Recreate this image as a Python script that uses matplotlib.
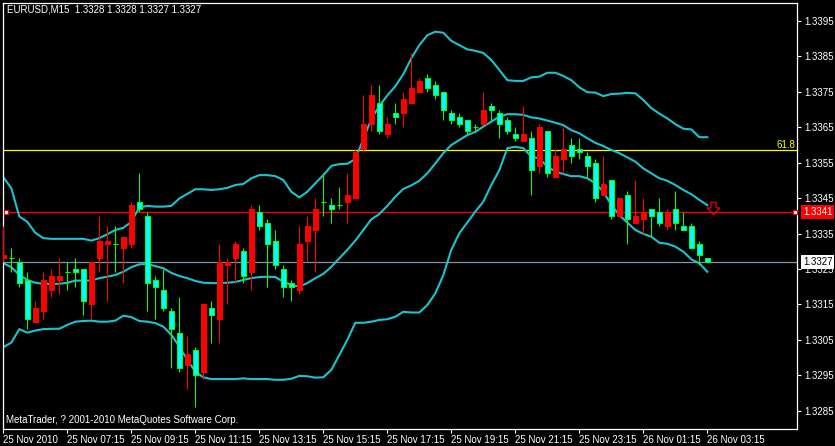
import numpy as np
import matplotlib
matplotlib.use("Agg")
import matplotlib.pyplot as plt
import matplotlib.transforms as mtransforms
from matplotlib.path import Path

# EURUSD M15, 25 Nov 2010 05:15 .. 26 Nov 2010 03:15
opens = [1.3328, 1.3328, 1.3327, 1.3322, 1.3310, 1.3313, 1.3319, 1.3322, 1.3324, 1.3325,
         1.3325, 1.3315, 1.3328, 1.3332, 1.3332, 1.3331, 1.3332, 1.3344, 1.3340, 1.3322,
         1.3319, 1.3313, 1.3307, 1.3298, 1.3302, 1.3296, 1.3314, 1.3311, 1.3326, 1.3328,
         1.3330, 1.3324, 1.3341, 1.3338, 1.3333, 1.3325, 1.3321, 1.3319, 1.3333, 1.3336,
         1.3344, 1.3343, 1.3343, 1.3344, 1.3345, 1.3359, 1.3366, 1.3372, 1.3363, 1.3369,
         1.3369, 1.3372, 1.3375, 1.3379, 1.3377, 1.3375, 1.3369, 1.3368, 1.3367, 1.3365,
         1.3366, 1.3371, 1.3369, 1.3367, 1.3363, 1.3361, 1.3362, 1.3354, 1.3364, 1.3351,
         1.3356, 1.3360, 1.3359, 1.3357, 1.3355, 1.3346, 1.3350, 1.3340, 1.3346, 1.3338,
         1.3339, 1.3342, 1.3341, 1.3337, 1.3342, 1.3337, 1.3337, 1.3332, 1.3328]
highs = [1.3337, 1.3331, 1.3328, 1.3324, 1.3316, 1.3324, 1.3325, 1.3328, 1.3327, 1.3328,
         1.3325, 1.3327, 1.3340, 1.3337, 1.3337, 1.3334, 1.3344, 1.3352, 1.3341, 1.3323,
         1.3325, 1.3314, 1.3317, 1.3306, 1.3303, 1.3315, 1.3316, 1.3332, 1.3328, 1.3333,
         1.3331, 1.3343, 1.3343, 1.3339, 1.3336, 1.3326, 1.3322, 1.3337, 1.3340, 1.3345,
         1.3352, 1.3345, 1.3348, 1.3352, 1.3359, 1.3374, 1.3377, 1.3377, 1.3368, 1.3372,
         1.3375, 1.3386, 1.3379, 1.3380, 1.3378, 1.3375, 1.3370, 1.3369, 1.3367, 1.3366,
         1.3375, 1.3372, 1.3370, 1.3368, 1.3365, 1.3371, 1.3364, 1.3366, 1.3364, 1.3359,
         1.3365, 1.3362, 1.3362, 1.3358, 1.3356, 1.3357, 1.3350, 1.3345, 1.3347, 1.3350,
         1.3345, 1.3342, 1.3345, 1.3342, 1.3347, 1.3341, 1.3338, 1.3333, 1.3328]
lows = [1.3327, 1.3324, 1.3320, 1.3308, 1.3310, 1.3311, 1.3317, 1.3318, 1.3319, 1.3320,
        1.3312, 1.3311, 1.3324, 1.3316, 1.3324, 1.3321, 1.3331, 1.3341, 1.3313, 1.3311,
        1.3313, 1.3297, 1.3296, 1.3291, 1.3286, 1.3294, 1.3304, 1.3304, 1.3315, 1.3321,
        1.3321, 1.3319, 1.3336, 1.3320, 1.3325, 1.3317, 1.3316, 1.3318, 1.3327, 1.3324,
        1.3340, 1.3338, 1.3342, 1.3338, 1.3345, 1.3358, 1.3364, 1.3363, 1.3362, 1.3366,
        1.3365, 1.3372, 1.3375, 1.3375, 1.3373, 1.3367, 1.3366, 1.3365, 1.3363, 1.3364,
        1.3366, 1.3367, 1.3362, 1.3363, 1.3361, 1.3361, 1.3346, 1.3352, 1.3351, 1.3351,
        1.3352, 1.3355, 1.3356, 1.3351, 1.3344, 1.3346, 1.3339, 1.3340, 1.3332, 1.3338,
        1.3335, 1.3334, 1.3337, 1.3336, 1.3336, 1.3336, 1.3331, 1.3326, 1.3327]
closes = [1.3329, 1.3328, 1.3321, 1.3311, 1.3314, 1.3322, 1.3323, 1.3323, 1.3324, 1.3324,
          1.3316, 1.3327, 1.3333, 1.3333, 1.3332, 1.3334, 1.3343, 1.3342, 1.3321, 1.3320,
          1.3314, 1.3308, 1.3297, 1.3301, 1.3295, 1.3315, 1.3312, 1.3327, 1.3327, 1.3332,
          1.3323, 1.3342, 1.3337, 1.3332, 1.3326, 1.3320, 1.3320, 1.3332, 1.3337, 1.3342,
          1.3344, 1.3342, 1.3343, 1.3346, 1.3358, 1.3366, 1.3374, 1.3364, 1.3366, 1.3368,
          1.3373, 1.3376, 1.3378, 1.3376, 1.3374, 1.3370, 1.3367, 1.3366, 1.3364, 1.3365,
          1.3370, 1.3370, 1.3366, 1.3364, 1.3362, 1.3363, 1.3353, 1.3365, 1.3352, 1.3357,
          1.3359, 1.3357, 1.3358, 1.3354, 1.3345, 1.3349, 1.3340, 1.3345, 1.3339, 1.3340,
          1.3341, 1.3340, 1.3338, 1.3341, 1.3338, 1.3336, 1.3331, 1.3329, 1.3327]

# Bollinger Bands (20, 2)
bb_upper = [1.33509, 1.33478, 1.33398, 1.33383, 1.33352, 1.33337, 1.33335, 1.33335, 1.33335, 1.33335,
            1.33335, 1.33330, 1.33337, 1.33348, 1.33360, 1.33366, 1.33383, 1.33424, 1.33428, 1.33426,
            1.33426, 1.33428, 1.33449, 1.33462, 1.33475, 1.33475, 1.33473, 1.33475, 1.33479, 1.33487,
            1.33490, 1.33506, 1.33515, 1.33515, 1.33512, 1.33501, 1.33468, 1.33452, 1.33468, 1.33492,
            1.33515, 1.33541, 1.33546, 1.33547, 1.33560, 1.33617, 1.33673, 1.33710, 1.33740, 1.33766,
            1.33800, 1.33845, 1.33882, 1.33910, 1.33920, 1.33917, 1.33894, 1.33882, 1.33870, 1.33866,
            1.33860, 1.33840, 1.33812, 1.33783, 1.33781, 1.33781, 1.33791, 1.33793, 1.33804, 1.33804,
            1.33795, 1.33783, 1.33763, 1.33749, 1.33748, 1.33738, 1.33744, 1.33745, 1.33747, 1.33746,
            1.33727, 1.33704, 1.33689, 1.33675, 1.33659, 1.33646, 1.33644, 1.33622, 1.33622]
bb_middle = [1.33266, 1.33255, 1.33233, 1.33219, 1.33211, 1.33208, 1.33208, 1.33208, 1.33211, 1.33217,
             1.33217, 1.33217, 1.33224, 1.33228, 1.33233, 1.33242, 1.33255, 1.33263, 1.33264, 1.33258,
             1.33252, 1.33239, 1.33230, 1.33224, 1.33216, 1.33211, 1.33210, 1.33210, 1.33211, 1.33213,
             1.33219, 1.33224, 1.33227, 1.33228, 1.33227, 1.33214, 1.33205, 1.33200, 1.33210, 1.33224,
             1.33236, 1.33256, 1.33280, 1.33304, 1.33330, 1.33360, 1.33390, 1.33405, 1.33428, 1.33454,
             1.33476, 1.33486, 1.33499, 1.33520, 1.33548, 1.33577, 1.33600, 1.33614, 1.33628, 1.33637,
             1.33652, 1.33666, 1.33680, 1.33687, 1.33687, 1.33685, 1.33678, 1.33675, 1.33669, 1.33663,
             1.33656, 1.33642, 1.33633, 1.33619, 1.33606, 1.33597, 1.33586, 1.33577, 1.33565, 1.33553,
             1.33534, 1.33520, 1.33506, 1.33499, 1.33487, 1.33473, 1.33461, 1.33445, 1.33430]
bb_lower = [1.33029, 1.33042, 1.33080, 1.33070, 1.33076, 1.33080, 1.33081, 1.33081, 1.33092, 1.33101,
            1.33103, 1.33104, 1.33101, 1.33101, 1.33104, 1.33118, 1.33114, 1.33103, 1.33101, 1.33097,
            1.33087, 1.33064, 1.33031, 1.32993, 1.32960, 1.32944, 1.32939, 1.32939, 1.32939, 1.32939,
            1.32941, 1.32939, 1.32939, 1.32939, 1.32937, 1.32937, 1.32940, 1.32948, 1.32947, 1.32943,
            1.32944, 1.32965, 1.33007, 1.33050, 1.33098, 1.33098, 1.33101, 1.33106, 1.33108, 1.33115,
            1.33129, 1.33127, 1.33127, 1.33148, 1.33181, 1.33233, 1.33304, 1.33351, 1.33381, 1.33412,
            1.33440, 1.33487, 1.33529, 1.33591, 1.33595, 1.33591, 1.33567, 1.33562, 1.33539, 1.33525,
            1.33518, 1.33512, 1.33512, 1.33506, 1.33492, 1.33468, 1.33431, 1.33402, 1.33381, 1.33360,
            1.33349, 1.33341, 1.33324, 1.33321, 1.33313, 1.33299, 1.33277, 1.33266, 1.33242]

price_ticks = [1.3285, 1.3295, 1.3305, 1.3315, 1.3325, 1.3335, 1.3345, 1.3355, 1.3365, 1.3375, 1.3385, 1.3395]
time_labels = ["25 Nov 2010", "25 Nov 07:15", "25 Nov 09:15", "25 Nov 11:15", "25 Nov 13:15",
               "25 Nov 15:15", "25 Nov 17:15", "25 Nov 19:15", "25 Nov 21:15", "25 Nov 23:15",
               "26 Nov 01:15", "26 Nov 03:15"]
label_step = 8  # 2 hours of 15 min bars

fibo_level = 1.33585
fibo_text = "61.8"
alert_level = 1.3341
bid_price = 1.3327
arrow_bar = 88.7
arrow_price = 1.33422
header = "EURUSD,M15  1.3328 1.3328 1.3327 1.3327"
copyright_txt = "MetaTrader, ? 2001-2010 MetaQuotes Software Corp."

plt.rcParams['font.family'] = ['Liberation Sans', 'DejaVu Sans']

W, H = 835, 446
fig = plt.figure(figsize=(W / 100, H / 100), dpi=100, facecolor='black')
ax = fig.add_axes([3 / W, (H - 429) / H, 794 / W, 426 / H], facecolor='black')

o = np.array(opens)
h = np.array(highs)
l = np.array(lows)
c = np.array(closes)
x = np.arange(len(o))
up = c > o
dn = ~up
lime = '#00ff00'
band_col = '#1cc3cf'

# bollinger bands
ax.plot(x, bb_upper, color=band_col, lw=1.5, zorder=2)
ax.plot(x, bb_middle, color=band_col, lw=1.5, zorder=2)
ax.plot(x, bb_lower, color=band_col, lw=1.5, zorder=2)

# candles
ax.vlines(x[up], l[up], h[up], color='red', lw=0.8, zorder=3)
ax.vlines(x[dn], l[dn], h[dn], color=lime, lw=0.8, zorder=3)
body_lo = np.minimum(o, c)
body_h = np.abs(c - o)
ax.bar(x[up], body_h[up], bottom=body_lo[up], width=0.55, color='red', edgecolor='red', lw=0.7, zorder=4)
ax.bar(x[dn], body_h[dn], bottom=body_lo[dn], width=0.55, color='cyan', edgecolor=lime, lw=0.8, zorder=4)

# horizontal lines
ax.axhline(fibo_level, color='yellow', lw=0.9, zorder=1)
ax.axhline(alert_level, color='red', lw=0.9, zorder=1)
ax.axhline(bid_price, color='#7f95a8', lw=0.9, zorder=1)
trans = mtransforms.blended_transform_factory(ax.transAxes, ax.transData)
ax.plot([2.5 / 794, 791.5 / 794], [alert_level, alert_level], 's', ms=3.2, mfc='white', mec='red',
        mew=0.8, transform=trans, clip_on=False, zorder=5)
ax.text(0.9975, fibo_level, fibo_text, transform=trans, color='yellow', fontsize=7,
        ha='right', va='bottom')

# sell arrow
arrow = Path([(-0.5, 0.05), (0, -0.5), (0.5, 0.05), (0.2, 0.05), (0.2, 0.5), (-0.2, 0.5),
              (-0.2, 0.05), (-0.5, 0.05)])
ax.plot([arrow_bar], [arrow_price], marker=arrow, ms=9, mfc='none', mec='red', mew=0.8, zorder=5)

# price labels on the right scale
ax.text(1.0075, alert_level, f"{alert_level:.4f}", transform=trans, color='white', fontsize=7,
        ha='left', va='center', zorder=10, clip_on=False,
        bbox=dict(boxstyle='square,pad=0.2', fc='red', ec='none'))
ax.text(1.0075, bid_price, f"{bid_price:.4f}", transform=trans, color='black', fontsize=7,
        ha='left', va='center', zorder=10, clip_on=False,
        bbox=dict(boxstyle='square,pad=0.2', fc='white', ec='none'))

ax.set_xlim(-0.04, 99.21)
ax.set_ylim(1.32798, 1.34001)

ax.yaxis.tick_right()
ax.set_yticks(price_ticks)
ax.set_yticklabels([f"{p:.4f}" for p in price_ticks])
ax.set_xticks(np.arange(len(time_labels)) * label_step)
ax.set_xticklabels(time_labels)
for lbl in ax.get_xticklabels():
    lbl.set_ha('left')
ax.tick_params(axis='y', direction='out', length=3, width=0.8, colors='white', labelsize=7, pad=2)
ax.tick_params(axis='x', direction='out', length=3, width=0.8, colors='white', labelsize=7, pad=1.5)
for s in ax.spines.values():
    s.set_color('white')
    s.set_linewidth(0.9)

fig.text(7 / W, 1 - 10 / H, header, color='white', fontsize=7, ha='left', va='center')
fig.text(6 / W, 1 - 420 / H, copyright_txt, color='white', fontsize=7, ha='left', va='center')

fig.savefig('out.png', dpi=100, facecolor='black')
